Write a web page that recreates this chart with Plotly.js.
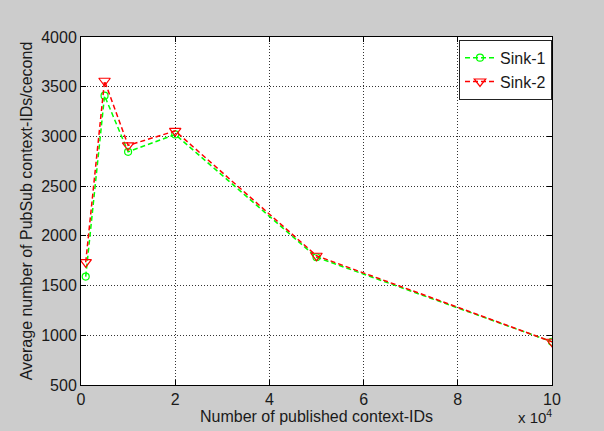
<!DOCTYPE html>
<html>
<head>
<meta charset="utf-8">
<script src="https://cdn.plot.ly/plotly-3.0.1.min.js"></script>
<style>html,body{margin:0;padding:0;background:#cccccc;}#chart{width:604px;height:431px;}</style>
</head>
<body>
<div id="chart"></div>
<script>
const xValues = [1000, 5000, 10000, 20000, 50000, 100000];
const sink1 = [1590, 3410, 2845, 3020, 1785, 935];
const sink2 = [1735, 3560, 2910, 3055, 1800, 935];
const xTickVals = [0, 20000, 40000, 60000, 80000, 100000];
const xTickText = ['0', '2', '4', '6', '8', '10'];
const yTickVals = [500, 1000, 1500, 2000, 2500, 3000, 3500, 4000];

const font = {family: 'Liberation Sans, Arial, sans-serif', size: 16, color: '#1a1a1a'};

const traces = [
  {x: xValues, y: sink1, name: 'Sink-1', mode: 'lines+markers', type: 'scatter',
   line: {color: '#00ff00', width: 1.5, dash: '5px,3px'},
   marker: {symbol: 'circle-open', size: 7, color: '#00ff00', line: {width: 1.2}}},
  {x: xValues, y: sink2, name: 'Sink-2', mode: 'lines+markers', type: 'scatter',
   line: {color: '#ff0000', width: 1.5, dash: '5px,3px'},
   marker: {symbol: 'triangle-down-open', size: 10, color: '#ff0000', line: {width: 1.2}}}
];

const axisCommon = {
  showline: true, linecolor: '#000', linewidth: 1, mirror: 'ticks',
  ticks: 'inside', ticklen: 5, tickcolor: '#000',
  showgrid: true, gridcolor: '#333', griddash: '1px,2px', gridwidth: 1,
  zeroline: false, tickfont: font
};

const layout = {
  width: 604, height: 431,
  paper_bgcolor: '#cccccc', plot_bgcolor: '#ffffff',
  margin: {l: 81, r: 52, t: 37, b: 46},
  font: font,
  showlegend: true,
  legend: {x: 1, xanchor: 'right', y: 0.992, yanchor: 'top', bgcolor: '#ffffff',
           bordercolor: '#222', borderwidth: 1, font: {family: font.family, size: 16, color: '#1a1a1a'},
           tracegroupgap: 0, itemwidth: 30},
  xaxis: Object.assign({}, axisCommon, {
    range: [0, 100000], tickvals: xTickVals, ticktext: xTickText,
    title: {text: 'Number of published context-IDs', font: font, standoff: 0}
  }),
  yaxis: Object.assign({}, axisCommon, {
    range: [500, 4000], tickvals: yTickVals,
    title: {text: 'Average number of PubSub context-IDs/cecond', font: font, standoff: 4}
  }),
  annotations: [{
    text: 'x 10<sup>4</sup>', xref: 'paper', yref: 'paper', x: 1, y: 0, xanchor: 'right', yanchor: 'top',
    yshift: -20, xshift: 2, showarrow: false, font: {family: font.family, size: 15, color: '#1a1a1a'}
  }]
};

Plotly.newPlot('chart', traces, layout, {displayModeBar: false, staticPlot: true});
</script>
</body>
</html>
